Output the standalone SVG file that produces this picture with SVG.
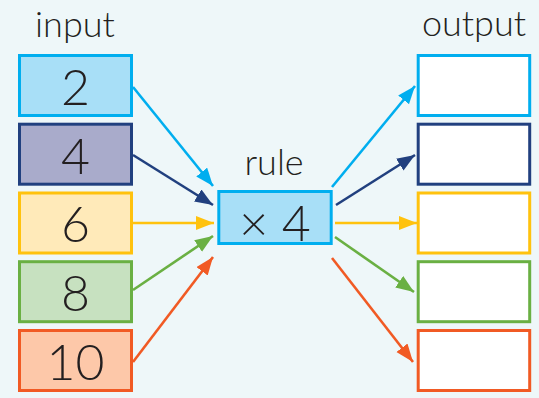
<svg xmlns="http://www.w3.org/2000/svg" width="539" height="398" viewBox="0 0 539 398">
<style>
.box{stroke-width:3}
.lbl{font-family:Lato,"Open Sans","DejaVu Sans",sans-serif;font-weight:300;fill:#231f20;text-anchor:middle}
.title{font-size:36px}
.num{font-size:50px}
.c{fill:none;stroke-width:2.6}
</style>
<defs>
<marker id="mBlue" markerUnits="userSpaceOnUse" markerWidth="20" markerHeight="16" refX="18" refY="7" orient="auto"><path d="M0,0 L18,7 L0,14 z" fill="#00aeef"/></marker>
<marker id="mNavy" markerUnits="userSpaceOnUse" markerWidth="20" markerHeight="16" refX="18" refY="7" orient="auto"><path d="M0,0 L18,7 L0,14 z" fill="#21407f"/></marker>
<marker id="mYellow" markerUnits="userSpaceOnUse" markerWidth="20" markerHeight="16" refX="18" refY="7" orient="auto"><path d="M0,0 L18,7 L0,14 z" fill="#ffc20e"/></marker>
<marker id="mGreen" markerUnits="userSpaceOnUse" markerWidth="20" markerHeight="16" refX="18" refY="7" orient="auto"><path d="M0,0 L18,7 L0,14 z" fill="#6ab043"/></marker>
<marker id="mOrange" markerUnits="userSpaceOnUse" markerWidth="20" markerHeight="16" refX="18" refY="7" orient="auto"><path d="M0,0 L18,7 L0,14 z" fill="#f15a24"/></marker>
</defs>
<rect width="539" height="398" fill="#eef7f9"/>
<text class="lbl title" x="75" y="37">input</text>
<text class="lbl title" x="474" y="36">output</text>
<text class="lbl title" x="274" y="175">rule</text>

<g id="in2"><rect class="box" x="19.5" y="55.5" width="112" height="60" fill="#a8dff7" stroke="#00aeef"/><text class="lbl num" x="75.5" y="105">2</text></g>
<g id="in4"><rect class="box" x="19.5" y="124.2" width="112" height="60" fill="#a9abcb" stroke="#21407f"/><text class="lbl num" x="75.5" y="174">4</text></g>
<g id="in6"><rect class="box" x="19.5" y="193" width="112" height="60" fill="#ffeab9" stroke="#ffc20e"/><text class="lbl num" x="75.5" y="242">6</text></g>
<g id="in8"><rect class="box" x="19.5" y="261.7" width="112" height="60" fill="#c7e1c0" stroke="#6ab043"/><text class="lbl num" x="75.5" y="311">8</text></g>
<g id="in10"><rect class="box" x="19.5" y="330.5" width="112" height="60" fill="#fdc8a9" stroke="#f15a24"/><text class="lbl num" x="75.5" y="380">10</text></g>

<g id="rule"><rect class="box" x="218.8" y="191.5" width="112.4" height="52" fill="#a8dff7" stroke="#00aeef"/><text class="lbl num" x="275" y="241">× 4</text></g>

<g id="out1"><rect class="box" x="418.2" y="55.5" width="111.5" height="60" fill="#ffffff" stroke="#00aeef"/></g>
<g id="out2"><rect class="box" x="418.2" y="124.2" width="111.5" height="60" fill="#ffffff" stroke="#21407f"/></g>
<g id="out3"><rect class="box" x="418.2" y="193" width="111.5" height="60" fill="#ffffff" stroke="#ffc20e"/></g>
<g id="out4"><rect class="box" x="418.2" y="261.7" width="111.5" height="60" fill="#ffffff" stroke="#6ab043"/></g>
<g id="out5"><rect class="box" x="418.2" y="330.5" width="111.5" height="60" fill="#ffffff" stroke="#f15a24"/></g>

<g id="connectors">
<line class="c" x1="133" y1="87" x2="213" y2="186" stroke="#00aeef" marker-end="url(#mBlue)"/>
<line class="c" x1="133" y1="155" x2="213" y2="205" stroke="#21407f" marker-end="url(#mNavy)"/>
<line class="c" x1="133" y1="223" x2="214" y2="223" stroke="#ffc20e" marker-end="url(#mYellow)"/>
<line class="c" x1="133" y1="290" x2="213" y2="236" stroke="#6ab043" marker-end="url(#mGreen)"/>
<line class="c" x1="133" y1="362" x2="213" y2="257" stroke="#f15a24" marker-end="url(#mOrange)"/>
<line class="c" x1="332" y1="187" x2="415" y2="86" stroke="#00aeef" marker-end="url(#mBlue)"/>
<line class="c" x1="336" y1="205" x2="415" y2="155" stroke="#21407f" marker-end="url(#mNavy)"/>
<line class="c" x1="335" y1="223" x2="417" y2="223" stroke="#ffc20e" marker-end="url(#mYellow)"/>
<line class="c" x1="335" y1="237" x2="414" y2="292" stroke="#6ab043" marker-end="url(#mGreen)"/>
<line class="c" x1="332" y1="258" x2="413" y2="362" stroke="#f15a24" marker-end="url(#mOrange)"/>
</g>
</svg>
